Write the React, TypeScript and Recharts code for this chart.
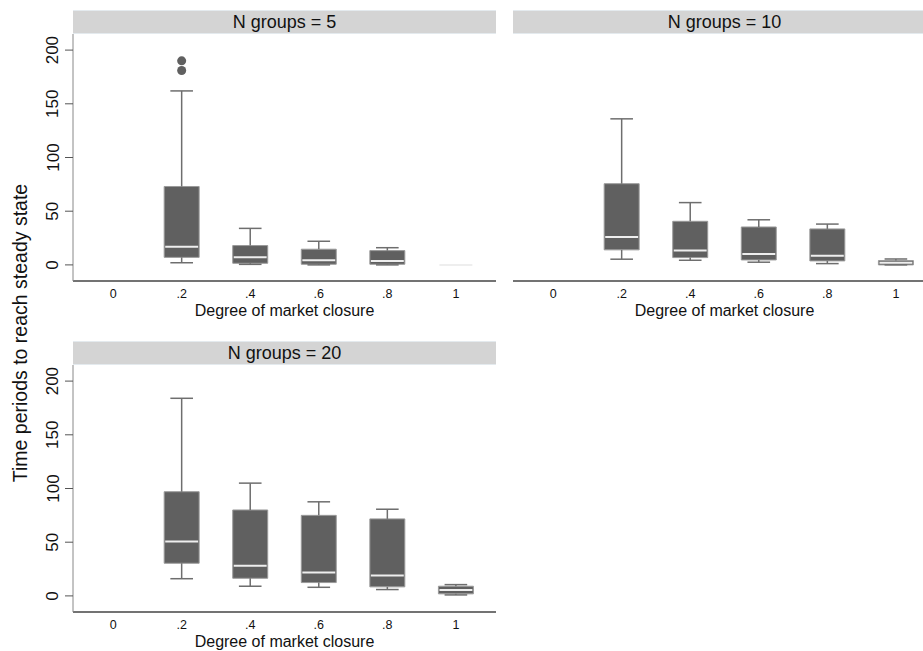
import React from "react";
import {
  ComposedChart,
  XAxis,
  YAxis,
  ReferenceArea,
  ReferenceLine,
  Scatter,
} from "recharts";

// ---------- data ----------
const closure = [0.2, 0.4, 0.6, 0.8, 1];
const xTicks = [0, 0.2, 0.4, 0.6, 0.8, 1];
const yTicks = [0, 50, 100, 150, 200];
const panelTitles = ["N groups = 5", "N groups = 10", "N groups = 20"];
const xTitle = "Degree of market closure";
const yTitle = "Time periods to reach steady state";

// N groups = 5
const min5 = [2, 0.5, 0, 0, 0];
const q1_5 = [7, 1.5, 0.6, 0.6, 0];
const med5 = [17, 7, 4.4, 3.7, 0];
const q3_5 = [73, 18, 14.6, 13.3, 0];
const max5 = [162, 34, 22, 16, 0];
const outlierX5 = [0.2, 0.2];
const outlierY5 = [190, 181];

// N groups = 10
const min10 = [5.3, 4.3, 2.5, 1.2, 0];
const q1_10 = [14, 6.8, 4.6, 3.7, 0];
const med10 = [26, 13.3, 10.2, 8.4, 2];
const q3_10 = [75.6, 40.6, 35.3, 33.5, 4];
const max10 = [136, 58, 42, 38, 5.5];

// N groups = 20
const min20 = [16, 9, 8, 5.9, 0.9];
const q1_20 = [30.4, 16.4, 12.4, 8.4, 1.9];
const med20 = [50.6, 28, 21.7, 19, 5.6];
const q3_20 = [97, 80, 75, 71.7, 9];
const max20 = [184, 105, 87.6, 80.7, 10.5];

// ---------- style ----------
const FONT = '"Liberation Sans", Arial, Helvetica, sans-serif';
const BOX_FILL = "#606060";
const BOX_EDGE = "#9a9a9a";
const WHISKER = "#6e6e6e";
const MEDIAN = "#eeeeee";
const BOX_HALF = 0.051;
const CAP_HALF = 0.033;
const X_DOMAIN: [number, number] = [-0.117, 1.117];
const Y_DOMAIN: [number, number] = [-15, 215];

const fmtX = (v: number) => {
  if (v === 0) return "0";
  if (v === 1) return "1";
  return String(v).replace(/^0/, "");
};

const YTick = (props: any) => {
  const { x, y, payload } = props;
  const bx = x - 4.5;
  return (
    <text
      x={bx}
      y={y}
      transform={`rotate(-90 ${bx} ${y})`}
      textAnchor="middle"
      fontSize={17}
      fill="#111"
      fontFamily={FONT}
    >
      {payload.value}
    </text>
  );
};

function boxElements(
  key: string,
  mins: number[],
  q1s: number[],
  meds: number[],
  q3s: number[],
  maxs: number[]
) {
  const els: React.ReactNode[] = [];
  closure.forEach((x, i) => {
    els.push(
      <ReferenceLine
        key={`${key}-wu${i}`}
        segment={[{ x, y: q3s[i] }, { x, y: maxs[i] }]}
        stroke={WHISKER}
        strokeWidth={1.5}
      />,
      <ReferenceLine
        key={`${key}-wl${i}`}
        segment={[{ x, y: mins[i] }, { x, y: q1s[i] }]}
        stroke={WHISKER}
        strokeWidth={1.5}
      />,
      <ReferenceLine
        key={`${key}-cu${i}`}
        segment={[{ x: x - CAP_HALF, y: maxs[i] }, { x: x + CAP_HALF, y: maxs[i] }]}
        stroke={WHISKER}
        strokeWidth={1.5}
      />,
      <ReferenceLine
        key={`${key}-cl${i}`}
        segment={[{ x: x - CAP_HALF, y: mins[i] }, { x: x + CAP_HALF, y: mins[i] }]}
        stroke={WHISKER}
        strokeWidth={1.5}
      />,
      <ReferenceArea
        key={`${key}-b${i}`}
        x1={x - BOX_HALF}
        x2={x + BOX_HALF}
        y1={q1s[i]}
        y2={q3s[i]}
        fill={BOX_FILL}
        fillOpacity={1}
        stroke={BOX_EDGE}
        strokeWidth={1}
      />,
      <ReferenceLine
        key={`${key}-m${i}`}
        segment={[
          { x: x - BOX_HALF + 0.003, y: meds[i] },
          { x: x + BOX_HALF - 0.003, y: meds[i] },
        ]}
        stroke={MEDIAN}
        strokeWidth={2}
      />
    );
  });
  return els;
}

type PanelProps = {
  left: number;
  top: number;
  showY: boolean;
  title: string;
  mins: number[];
  q1s: number[];
  meds: number[];
  q3s: number[];
  maxs: number[];
  outliers: { x: number; y: number }[];
  id: string;
};

const PLOT_W = 423;
const PLOT_H = 247;
const Y_AXIS_W = 73;
const X_AXIS_H = 40;
const HEADER_H = 24;

function Panel(p: PanelProps) {
  const chartLeft = p.showY ? p.left - Y_AXIS_W : p.left;
  const chartW = p.showY ? PLOT_W + Y_AXIS_W : PLOT_W;
  const medianPts = closure.map((x, i) => ({ x, y: p.meds[i] }));
  return (
    <>
      <div
        style={{
          position: "absolute",
          left: p.left,
          top: p.top - HEADER_H,
          width: PLOT_W,
          height: HEADER_H,
          background: "#d4d4d4",
          boxSizing: "border-box",
          borderTop: "1px solid #e4eaee",
          borderBottom: "1px solid #e4eaee",
          fontFamily: FONT,
          fontSize: 18,
          lineHeight: `${HEADER_H - 2}px`,
          textAlign: "center",
          color: "#111",
        }}
      >
        {p.title}
      </div>
      <div style={{ position: "absolute", left: chartLeft, top: p.top }}>
        <ComposedChart
          width={chartW}
          height={PLOT_H + X_AXIS_H}
          margin={{ top: 0, right: 0, bottom: 0, left: 0 }}
        >
          <XAxis
            type="number"
            dataKey="x"
            domain={X_DOMAIN}
            allowDataOverflow
            ticks={xTicks}
            tickFormatter={fmtX}
            tickLine={false}
            axisLine={{ stroke: "#444", strokeWidth: 1.5 }}
            tick={{ fontSize: 12.5, fill: "#111", fontFamily: FONT }}
            height={X_AXIS_H}
            interval={0}
            label={{
              value: xTitle,
              position: "insideBottom",
              offset: 5,
              fontSize: 16,
              fill: "#111",
              fontFamily: FONT,
            }}
          />
          <YAxis
            type="number"
            dataKey="y"
            domain={Y_DOMAIN}
            allowDataOverflow
            ticks={yTicks}
            hide={!p.showY}
            width={Y_AXIS_W}
            tickSize={8}
            tickLine={{ stroke: "#555" }}
            axisLine={{ stroke: "#888" }}
            tick={<YTick />}
            interval={0}
          />
          {boxElements(p.id, p.mins, p.q1s, p.meds, p.q3s, p.maxs)}
          <Scatter
            data={medianPts}
            isAnimationActive={false}
            shape={() => <g />}
          />
          <Scatter
            data={p.outliers}
            fill={BOX_FILL}
            isAnimationActive={false}
          />
        </ComposedChart>
      </div>
    </>
  );
}

export default function App() {
  const out5 = outlierX5.map((x, i) => ({ x, y: outlierY5[i] }));
  return (
    <div
      style={{
        position: "absolute",
        left: 0,
        top: 0,
        width: 923,
        height: 651,
        overflow: "hidden",
        background: "#fff",
      }}
    >
      <Panel
        id="p5"
        left={73}
        top={34}
        showY
        title={panelTitles[0]}
        mins={min5}
        q1s={q1_5}
        meds={med5}
        q3s={q3_5}
        maxs={max5}
        outliers={out5}
      />
      <Panel
        id="p10"
        left={513}
        top={34}
        showY={false}
        title={panelTitles[1]}
        mins={min10}
        q1s={q1_10}
        meds={med10}
        q3s={q3_10}
        maxs={max10}
        outliers={[]}
      />
      <Panel
        id="p20"
        left={73}
        top={365}
        showY
        title={panelTitles[2]}
        mins={min20}
        q1s={q1_20}
        meds={med20}
        q3s={q3_20}
        maxs={max20}
        outliers={[]}
      />
      <svg
        width={60}
        height={651}
        style={{ position: "absolute", left: 0, top: 0, pointerEvents: "none" }}
      >
        <text
          x={27}
          y={333}
          transform="rotate(-90 27 333)"
          textAnchor="middle"
          fontSize={19.5}
          fill="#111"
          fontFamily={FONT}
        >
          {yTitle}
        </text>
      </svg>
    </div>
  );
}
